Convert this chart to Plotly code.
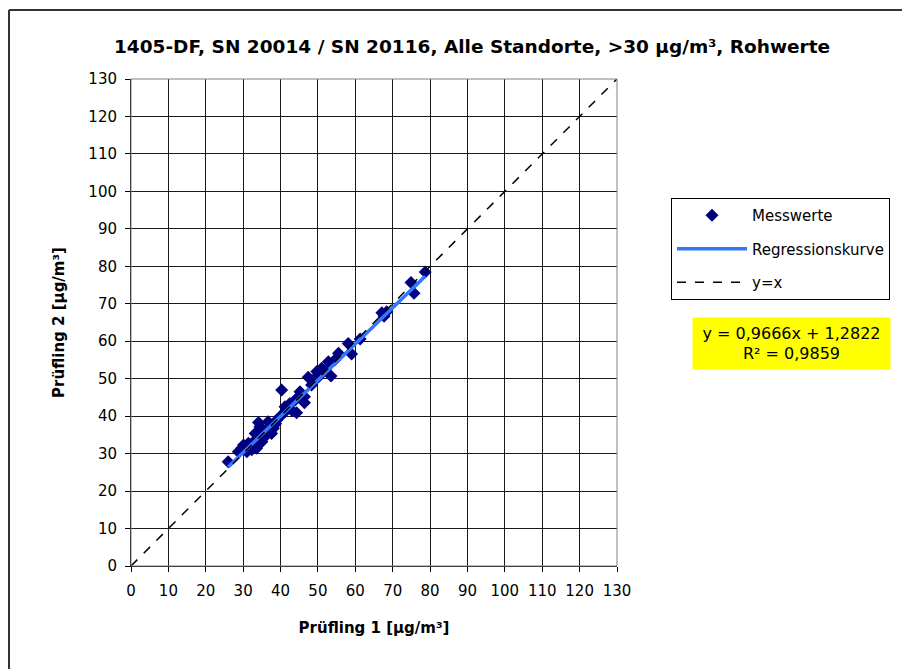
import plotly.graph_objects as go

# ---- data ----
pruefling1 = [26.0, 28.7, 29.6, 30.1, 31.0, 31.4, 32.3, 33.2, 33.2, 33.6, 34.1, 34.5, 35.4, 35.8,
              36.7, 37.6, 38.1, 39.0, 39.9, 40.3, 41.2, 41.2, 42.5, 43.0, 43.9, 44.3, 45.2, 46.4,
              46.4, 47.4, 48.3, 48.8, 49.7, 51.0, 52.8, 53.5, 55.5, 58.1, 59.0, 61.3, 67.1, 68.4,
              67.7, 74.9, 75.7, 78.7, 30.8, 32.7, 34.8, 36.2, 37.2, 38.7, 35.0, 42.0, 45.5, 50.2,
              52.0, 54.5]
pruefling2 = [27.8, 30.5, 31.4, 32.3, 30.5, 32.8, 31.0, 33.6, 35.4, 31.4, 38.3, 37.2, 34.1, 35.0,
              38.5, 35.4, 36.8, 39.0, 39.9, 47.0, 41.2, 42.5, 43.4, 41.6, 44.3, 40.9, 46.5, 45.2,
              43.6, 50.4, 48.3, 49.7, 51.9, 52.8, 54.5, 50.7, 56.8, 59.4, 56.6, 60.6, 67.6, 67.9,
              66.7, 75.7, 72.8, 78.5, 31.8, 32.0, 34.8, 36.0, 37.0, 38.0, 33.2, 42.5, 45.8, 50.5,
              52.3, 55.0]
slope = 0.9666
intercept = 1.2822
r_squared = 0.9859
axis_range = [0, 130]
tick_values = list(range(0, 131, 10))

FONT = "DejaVu Sans, Arial, sans-serif"

xmin, xmax = min(pruefling1), max(pruefling1)
reg_x = [xmin, xmax]
reg_y = [slope * v + intercept for v in reg_x]

fig = go.Figure()
fig.add_trace(go.Scatter(
    x=pruefling1, y=pruefling2, mode="markers", name="Messwerte",
    marker=dict(symbol="diamond", size=10, color="#000080", line=dict(width=0)),
    legendgroup="a"))
fig.add_trace(go.Scatter(
    x=reg_x, y=reg_y, mode="lines", name="Regressionskurve",
    line=dict(color="#3377ff", width=3.5), legendgroup="b"))
fig.add_trace(go.Scatter(
    x=axis_range, y=axis_range, mode="lines", name="y=x",
    line=dict(color="black", width=1.5, dash="dash"), legendgroup="c"))

OFF = 8  # page body margin
W, H = 910, 669
L, R, T, B = 131 - OFF, 617 - OFF, 79 - OFF, 566 - OFF

def px(p):  # screenshot pixel -> paper x
    return (p - OFF - L) / (R - L)

def py(q):  # screenshot pixel -> paper y
    return (B - (q - OFF)) / (B - T)

axis_common = dict(
    range=axis_range, tickvals=tick_values, showgrid=True, gridcolor="#1a1a1a", gridwidth=1,
    zeroline=False, showline=True, linecolor="black", linewidth=1,
    ticks="outside", ticklen=5, tickcolor="black",
    tickfont=dict(family=FONT, size=15, color="black"))

fig.update_layout(
    width=W, height=H,
    margin=dict(l=L, r=W - R, t=T, b=H - B, pad=0),
    paper_bgcolor="white", plot_bgcolor="white",
    font=dict(family=FONT, color="black"),
    title=dict(text="<b>1405-DF, SN 20014 / SN 20116, Alle Standorte, >30 µg/m³, Rohwerte</b>",
               x=(472 - OFF) / W, xanchor="center", y=1 - (47 - OFF) / H, yanchor="middle",
               font=dict(family=FONT, size=18.5, color="black")),
    xaxis=dict(**axis_common, ticklabelstandoff=6,
               title=dict(text="<b>Prüfling 1 [µg/m³]</b>", standoff=23,
                          font=dict(family=FONT, size=15, color="black"))),
    yaxis=dict(**axis_common, ticklabelstandoff=5,
               title=dict(text="<b>Prüfling 2 [µg/m³]</b>", standoff=20,
                          font=dict(family=FONT, size=15, color="black"))),
    legend=dict(x=px(671), y=py(198), xanchor="left", yanchor="top",
                bgcolor="white", bordercolor="black", borderwidth=1,
                font=dict(family=FONT, size=15, color="black"),
                tracegroupgap=11, itemwidth=70),
    showlegend=True,
    annotations=[dict(
        x=px(791.5), y=py(343), xref="paper", yref="paper", xanchor="center", yanchor="middle",
        text=f"y = {str(slope).replace('.', ',')}x + {str(intercept).replace('.', ',')}<br>"
             f"R² = {str(r_squared).replace('.', ',')}",
        showarrow=False, bgcolor="#ffff00", width=195, height=49, align="center",
        font=dict(family=FONT, size=16, color="black"))],
    shapes=[
        dict(type="rect", xref="paper", yref="paper", x0=0, y0=0, x1=1, y1=1,
             line=dict(color="#808080", width=1), layer="above"),
        dict(type="line", xref="paper", yref="paper", x0=px(9), x1=px(9), y0=py(10), y1=py(H + 20),
             line=dict(color="#333333", width=2)),
        dict(type="line", xref="paper", yref="paper", x0=px(9), x1=px(W + 20), y0=py(10), y1=py(10),
             line=dict(color="#333333", width=2)),
    ],
)

fig.write_html("out.html")
